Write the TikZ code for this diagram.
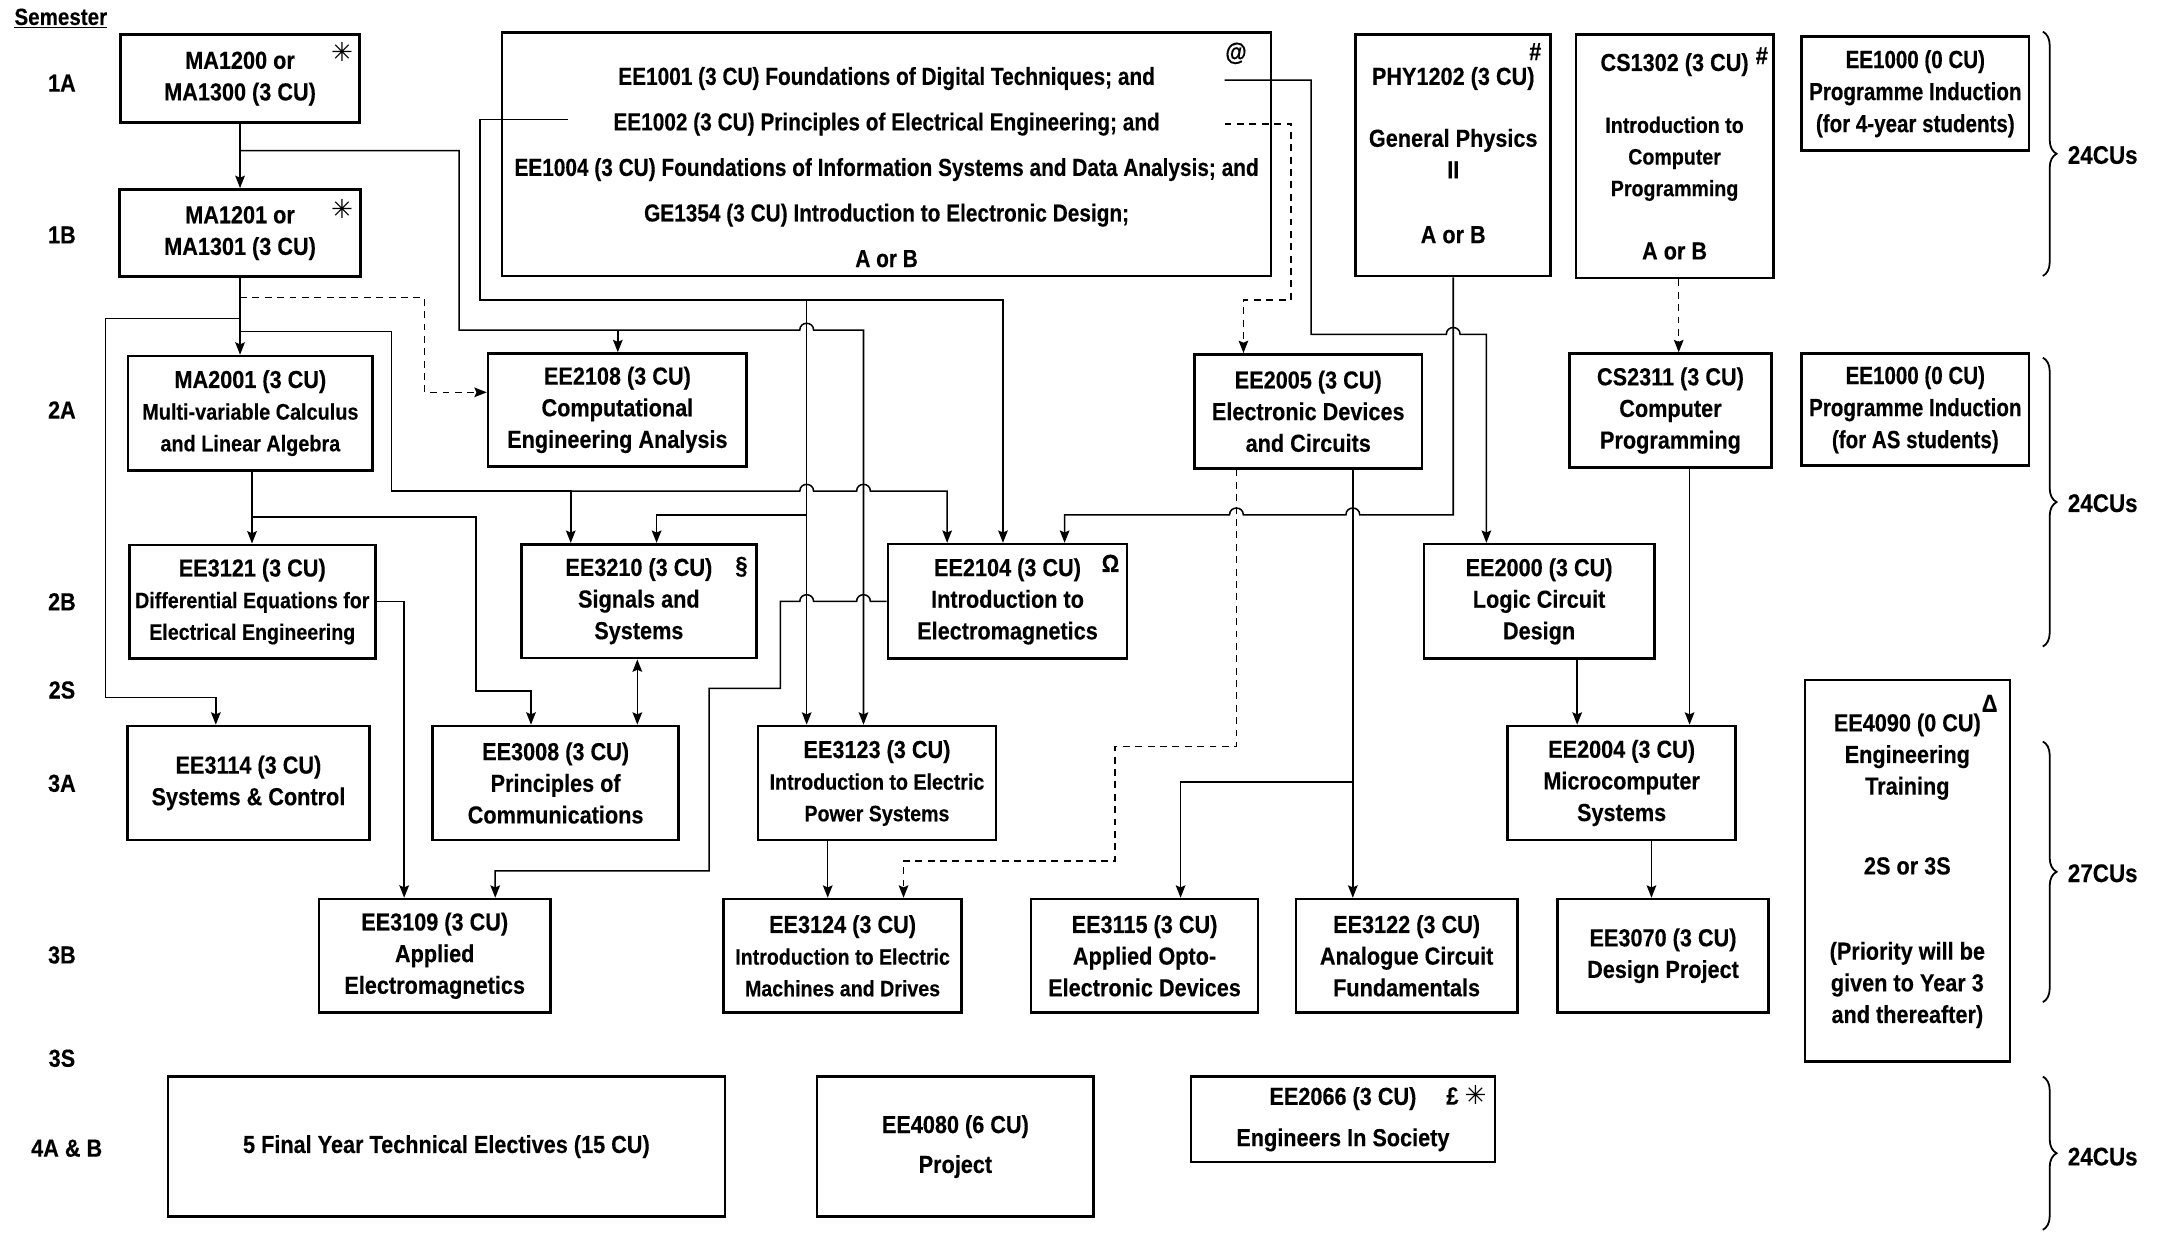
\documentclass[tikz,border=0pt]{standalone}
\usepackage{fontspec}
\setmainfont{Liberation Sans}[FakeStretch=0.88, BoldFeatures={FakeBold=0.3}]
\newfontfamily\condfont{Liberation Sans}[FakeStretch=0.846, BoldFeatures={FakeBold=0.3}]
\newfontfamily\narrowfont{Liberation Sans}[FakeStretch=0.83, BoldFeatures={FakeBold=0.3}]
\newfontfamily\dvsfont{DejaVu Sans}
\usetikzlibrary{arrows.meta,decorations.pathreplacing}
\newcommand{\smf}{\fontsize{16.2}{22}\selectfont}
\newcommand{\astmk}{{\dvsfont\fontsize{19}{19}\selectfont\char"2733}}
\tikzset{
  every node/.style={font=\bfseries\fontsize{17.9}{23}\selectfont, inner sep=0pt, align=center},
  box/.style={draw, line width=1.9pt},
  link/.style={line width=1.1pt},
  conn/.style={link, -{Stealth[length=9pt,width=7pt,inset=1.5pt]}},
  twoway/.style={link, {Stealth[length=9pt,width=7pt,inset=1.5pt]}-{Stealth[length=9pt,width=7pt,inset=1.5pt]}},
  dashline/.style={dash pattern=on 5pt off 4pt},
  supmark/.style={font=\bfseries\fontsize{18}{18}\selectfont},
  cubrace/.style={decorate, decoration={brace, amplitude=10pt}, line width=1.3pt},
  cutext/.style={anchor=west, font=\bfseries\fontsize{18.5}{20}\selectfont},
  indfont/.style={font=\narrowfont\bfseries\fontsize{18}{23.3}\selectfont},
}
\begin{document}
\begin{tikzpicture}[x=1pt,y=-1pt]
\useasboundingbox (0,0) rectangle (1568,896);

% semester labels
\node (semhdr) at (44.2,13.3) {\fontsize{17}{20}\selectfont\underline{Semester}};
\node (s1a) at (45,60.5) {1A};
\node (s1b) at (45,170.8) {1B};
\node (s2a) at (45,298) {2A};
\node (s2b) at (45,437.4) {2B};
\node (s2s) at (45,501.6) {2S};
\node (s3a) at (45,569.4) {3A};
\node (s3b) at (45,694.2) {3B};
\node (s3s) at (45,769.3) {3S};
\node (s4ab) at (48.5,834.7) {4A \& B};

% year 1
\node[box, minimum width=173.5pt, minimum height=64pt] (ma1200) at (174.5,57.1) {MA1200 or\\MA1300 (3 CU)};
\node (ma1200s) at (248.6,38) {\astmk};
\node[box, minimum width=175pt, minimum height=63.5pt] (ma1201) at (174.5,169.4) {MA1201 or\\MA1301 (3 CU)};
\node (ma1201s) at (248.6,151.8) {\astmk};
\node[box, minimum width=559pt, minimum height=177pt] (ee100) at (644.3,112) {};
\node[font=\condfont\bfseries\fontsize{17.9}{33.1}\selectfont] (ee100txt) at (644.5,121.5) {EE1001 (3 CU) Foundations of Digital Techniques; and\\EE1002 (3 CU) Principles of Electrical Engineering; and\\EE1004 (3 CU) Foundations of Information Systems and Data Analysis; and\\GE1354 (3 CU) Introduction to Electronic Design;\\A or B};
\node[supmark] (ee100s) at (898.5,38.8) {@};
\node[box, minimum width=141.8pt, minimum height=175.6pt] (phy) at (1056.4,112.8) {PHY1202 (3 CU)\\[22pt]General Physics\\II\\[24pt]A or B};
\node[supmark] (phys) at (1116,37.5) {\#};
\node[box, minimum width=143.4pt, minimum height=177pt] (cs1302) at (1217.3,113.7) {CS1302 (3 CU)\\[22pt]{\smf Introduction to}\\{\smf Computer}\\{\smf Programming}\\[23pt]A or B};
\node[supmark] (cs1302s) at (1280.7,40.5) {\#};
\node[box, indfont, minimum width=165.4pt, minimum height=82.8pt] (ee1000a) at (1392.3,68.1) {EE1000 (0 CU)\\Programme Induction\\(for 4-year students)};

% year 2
\node[box, minimum width=178pt, minimum height=83pt] (ma2001) at (182,300.3) {MA2001 (3 CU)\\{\fontsize{16.4}{22}\selectfont Multi-variable Calculus}\\{\fontsize{16.4}{22}\selectfont and Linear Algebra}};
\node[box, minimum width=188pt, minimum height=82pt] (ee2108) at (448.8,298) {EE2108 (3 CU)\\Computational\\Engineering Analysis};
\node[box, minimum width=165.3pt, minimum height=82.8pt] (ee2005) at (951,299) {EE2005 (3 CU)\\Electronic Devices\\and Circuits};
\node[box, minimum width=146.5pt, minimum height=83pt] (cs2311) at (1214.3,298.5) {CS2311 (3 CU)\\Computer\\Programming};
\node[box, indfont, minimum width=165.4pt, minimum height=81.6pt] (ee1000b) at (1392.3,297.8) {EE1000 (0 CU)\\Programme Induction\\(for AS students)};

\node[box, minimum width=178.7pt, minimum height=82.5pt] (ee3121) at (183.4,437.3) {EE3121 (3 CU)\\{\smf Differential Equations for}\\{\smf Electrical Engineering}};
\node[box, minimum width=170.8pt, minimum height=82.8pt] (ee3210) at (464.4,437) {EE3210 (3 CU)\\Signals and\\Systems};
\node[supmark] (ee3210s) at (539,412) {\S};
\node[box, minimum width=173.7pt, minimum height=83.3pt] (ee2104) at (732.4,437.2) {EE2104 (3 CU)\\Introduction to\\Electromagnetics};
\node[supmark] (ee2104s) at (807.2,409.5) {Ω};
\node[box, minimum width=167.5pt, minimum height=83.3pt] (ee2000) at (1118.8,437.2) {EE2000 (3 CU)\\Logic Circuit\\Design};
\node[box, minimum width=149pt, minimum height=277.4pt] (ee4090) at (1386.5,633) {EE4090 (0 CU)\\Engineering\\Training\\[35pt]2S or 3S\\[39pt](Priority will be\\given to Year 3\\and thereafter)};
\node[supmark] (ee4090s) at (1446.3,511.3) {Δ};

% year 3
\node[box, minimum width=176.2pt, minimum height=82.9pt] (ee3114) at (180.6,569.2) {EE3114 (3 CU)\\Systems \& Control};
\node[box, minimum width=178.9pt, minimum height=82.9pt] (ee3008) at (403.9,569.2) {EE3008 (3 CU)\\Principles of\\Communications};
\node[box, minimum width=173pt, minimum height=82.9pt] (ee3123) at (637.5,569.2) {EE3123 (3 CU)\\{\smf Introduction to Electric}\\{\smf Power Systems}};
\node[box, minimum width=165.5pt, minimum height=82.9pt] (ee2004) at (1178.8,569.2) {EE2004 (3 CU)\\Microcomputer\\Systems};

\node[box, minimum width=168pt, minimum height=82.5pt] (ee3109) at (316,694.8) {EE3109 (3 CU)\\Applied\\Electromagnetics};
\node[box, minimum width=173pt, minimum height=82.5pt] (ee3124) at (612.5,694.8) {EE3124 (3 CU)\\{\smf Introduction to Electric}\\{\smf Machines and Drives}};
\node[box, minimum width=165pt, minimum height=82.5pt] (ee3115) at (832,694.8) {EE3115 (3 CU)\\Applied Opto-\\Electronic Devices};
\node[box, minimum width=161pt, minimum height=82.5pt] (ee3122) at (1022.5,694.8) {EE3122 (3 CU)\\Analogue Circuit\\Fundamentals};
\node[box, minimum width=153.7pt, minimum height=82.5pt] (ee3070) at (1208.9,694.8) {EE3070 (3 CU)\\Design Project};

% year 4
\node[box, minimum width=405pt, minimum height=101.8pt] (fyp) at (324.5,833.5) {5 Final Year Technical Electives (15 CU)};
\node[box, minimum width=201pt, minimum height=101.8pt] (ee4080) at (694.5,833.5) {EE4080 (6 CU)\\[6pt]Project};
\node[box, minimum width=220.9pt, minimum height=61.9pt] (ee2066) at (976.2,813.6) {EE2066 (3 CU)\\[7pt]Engineers In Society};
\node[supmark] (ee2066s) at (1066,796) {£ \astmk};

% braces
\draw[cubrace] (1485,23) -- (1485,200.6);
\node[cutext] (cu1) at (1503,112.7) {24CUs};
\draw[cubrace] (1485,260) -- (1485,470);
\node[cutext] (cu2) at (1503,365.8) {24CUs};
\draw[cubrace] (1485,539) -- (1485,728.5);
\node[cutext] (cu3) at (1503,634.8) {27CUs};
\draw[cubrace] (1485,782.6) -- (1485,894);
\node[cutext] (cu4) at (1503,840.8) {24CUs};

% connector points
\coordinate (j1200) at (174.5,109.5);
\coordinate (e1001r) at (890.2,58.2);
\coordinate (e1002l) at (412.8,86.7);
\coordinate (e1002r) at (890.2,90.1);

% MA1200
\draw[conn] (ma1200.south) -- (ma1200.south |- ma1201.north);
\draw[conn] (j1200) -- (333.7,109.5) -- (333.7,239.9) -- (581.4,239.9) .. controls (581.4,233.4) and (591.4,233.4) .. (591.4,239.9) -- (627.7,239.9) -- (627.7,239.9 |- ee3123.north);
\draw[conn] (449.1,239.9) -- (449.1,239.9 |- ee2108.north);

% MA1201
\draw[conn] (ma1201.south) -- (ma1201.south |- ma2001.north);
\draw[conn,dashline] (174.5,216.4) -- (308.7,216.4) -- (308.7,285.2) -- (308.7,285.2 -| ee2108.west);
\draw[conn] (174.5,231.4) -- (76.8,231.4) -- (76.8,507.2) -- (156.9,507.2) -- (156.9,507.2 |- ee3114.north);
\draw[conn] (174.5,241.1) -- (284.7,241.1) -- (284.7,357) -- (414.9,357) -- (414.9,357 |- ee3210.north);
\draw[conn] (414.9,357) -- (581.4,357) .. controls (581.4,350.5) and (591.4,350.5) .. (591.4,357) -- (622.7,357) .. controls (622.7,350.5) and (632.7,350.5) .. (632.7,357) -- (688.5,357) -- (688.5,357 |- ee2104.north);

% MA2001
\draw[conn] (183.2,0 |- ma2001.south) -- (183.2,0 |- ee3121.north);
\draw[conn] (183.2,376) -- (346.1,376) -- (346.1,502.3) -- (386,502.3) -- (386,502.3 |- ee3008.north);

% EE3121 -> EE3109
\draw[conn] (ee3121.east) -- (293.8,437.3) -- (293.8,437.3 |- ee3109.north);

% EE3210 <-> EE3008
\draw[twoway] (463.3,0 |- ee3210.south) -- (463.3,0 |- ee3008.north);

% EE1002 solid
\draw[conn] (e1002l) -- (349,86.7) -- (349,218) -- (729.1,218) -- (729.1,218 |- ee2104.north);
\draw[conn] (586.4,218) -- (586.4,218 |- ee3123.north);
\draw[conn] (586.4,374.2) -- (477.3,374.2) -- (477.3,374.2 |- ee3210.north);

% EE1002 dashed
\draw[conn,dashline] (e1002r) -- (938.4,90.1) -- (938.4,218) -- (903.9,218) -- (903.9,218 |- ee2005.north);

% EE1001
\draw[conn] (e1001r) -- (953.1,58.2) -- (953.1,243) -- (1051.4,243) .. controls (1051.4,236.5) and (1061.4,236.5) .. (1061.4,243) -- (1080.5,243) -- (1080.5,243 |- ee2000.north);

% PHY1202
\draw[conn] (phy.south) -- (phy.south |- 0,374.2) -- (988.4,374.2) .. controls (988.4,367.7) and (978.4,367.7) .. (978.4,374.2) -- (903.8,374.2) .. controls (903.8,367.7) and (893.8,367.7) .. (893.8,374.2) -- (773.9,374.2) -- (773.9,374.2 |- ee2104.north);

% EE2005
\draw[conn,dashline] (898.8,0 |- ee2005.south) -- (898.8,542.8) -- (810.5,542.8) -- (810.5,625.9) -- (656.8,625.9) -- (656.8,625.9 |- ee3124.north);
\draw[conn] (983.4,0 |- ee2005.south) -- (983.4,0 |- ee3122.north);
\draw[conn] (983.4,568.4) -- (858.2,568.4) -- (858.2,568.4 |- ee3115.north);

% CS / EE2000 / EE2004
\draw[conn,dashline] (1220.3,0 |- cs1302.south) -- (1220.3,0 |- cs2311.north);
\draw[conn] (1228.2,0 |- cs2311.south) -- (1228.2,0 |- ee2004.north);
\draw[conn] (1146.5,0 |- ee2000.south) -- (1146.5,0 |- ee2004.north);
\draw[conn] (1200.5,0 |- ee2004.south) -- (1200.5,0 |- ee3070.north);

% EE3123 -> EE3124
\draw[conn] (601.7,0 |- ee3123.south) -- (601.7,0 |- ee3124.north);

% EE2104 -> EE3109
\draw[conn] (ee2104.west) -- (632.7,437.2) .. controls (632.7,430.7) and (622.7,430.7) .. (622.7,437.2) -- (591.4,437.2) .. controls (591.4,430.7) and (581.4,430.7) .. (581.4,437.2) -- (567.3,437.2) -- (567.3,500.4) -- (515.5,500.4) -- (515.5,633) -- (360,633) -- (360,633 |- ee3109.north);
\end{tikzpicture}
\end{document}
